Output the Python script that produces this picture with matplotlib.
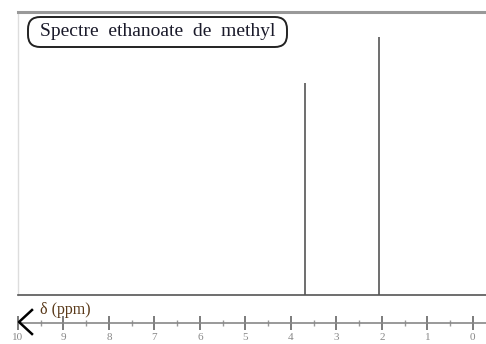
import matplotlib.pyplot as plt
from matplotlib.lines import Line2D
from matplotlib.patches import FancyBboxPatch

# spectre RMN ethanoate de methyl
shifts = [3.65, 2.03]
intensity = [0.82, 1.0]
ticks = list(range(10, -1, -1))

W, H = 486, 344
fig = plt.figure(figsize=(W / 100, H / 100), dpi=100)
serif = ["Liberation Serif", "DejaVu Serif"]

def px(x0, x1):
    # ppm range matching pixel span 0 ppm at 472.7 px, 10 ppm at 13 px
    return (472.7 - x0) / 45.97, (472.7 - x1) / 45.97

# main spectrum panel
ax = fig.add_axes([18 / W, (H - 295) / H, (W - 18) / W, (295 - 12) / H])
ax.vlines(shifts, 0, intensity, color="#555555", lw=1.2)
ax.set_xlim(*px(18, W))
ax.set_ylim(0, 1.097)
ax.set_xticks([])
ax.set_yticks([])
ax.spines["right"].set_visible(False)
ax.spines["top"].set_color("#999999")
ax.spines["top"].set_linewidth(2.2)
ax.spines["left"].set_color("#dddddd")
ax.spines["left"].set_linewidth(1)
ax.spines["bottom"].set_color("#555555")
ax.spines["bottom"].set_linewidth(1.2)

# title box
box = FancyBboxPatch((28 / W, (H - 47) / H), 259 / W, 30 / H,
                     boxstyle="round,pad=0,rounding_size=0.025",
                     transform=fig.transFigure, fc="white", ec="#222222",
                     lw=1.4, mutation_aspect=W / H)
fig.add_artist(box)
fig.text(40 / W, (H - 32) / H, "Spectre  ethanoate  de  methyl",
         family=serif, fontsize=14, color="#1a1a2a", va="center", ha="left")

# ppm axis
ax2 = fig.add_axes([18 / W, (H - 323) / H, (W - 18) / W, 0.001])
ax2.set_xlim(*px(18, W))
ax2.set_yticks([])
for s in ["top", "left", "right"]:
    ax2.spines[s].set_visible(False)
ax2.spines["bottom"].set_color("#888888")
ax2.spines["bottom"].set_linewidth(1.2)
ax2.set_xticks(ticks)
ax2.set_xticklabels([str(t) for t in ticks], family=serif, fontsize=8,
                    color="#888888")
ax2.set_xticks([t + 0.5 for t in ticks[1:]], minor=True)
ax2.tick_params(axis="x", which="major", direction="inout", length=10,
                width=1.2, color="#666666", pad=2)
ax2.tick_params(axis="x", which="minor", direction="inout", length=5,
                width=1, color="#999999")

fig.text(40 / W, (H - 310) / H, "δ (ppm)", family=serif, fontsize=11.5,
         color="#5a3a1a", va="center", ha="left")

# arrow head at the left end
fig.add_artist(Line2D([32 / W, 19 / W, 32 / W],
                      [(H - 310) / H, (H - 322) / H, (H - 334) / H],
                      color="black", lw=1.8))

fig.savefig("out.png", dpi=100)
